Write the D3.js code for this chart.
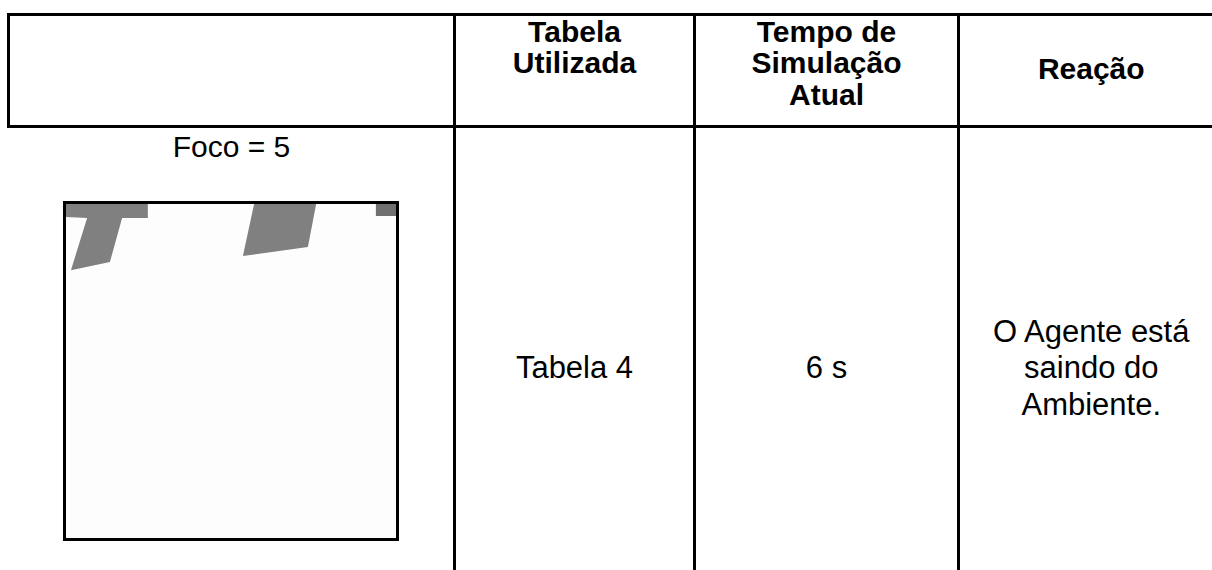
<!DOCTYPE html>
<html><head><meta charset="utf-8">
<script src="https://cdn.jsdelivr.net/npm/d3@7"></script>
<style>html,body{margin:0;padding:0;background:#fff;}svg{display:block;font-family:"Liberation Sans",Arial,sans-serif;}</style>
</head><body><svg id="c" width="1212" height="570"></svg>
<script>
// ---- data ----
const headers = [[""], ["Tabela","Utilizada"], ["Tempo de","Simulação","Atual"], ["Reação"]];
const headerAlign = ["top","top","top","middle"];
const imageTitle = "Foco = 5";
const tableUsed = ["Tabela 4"];
const simTime = ["6 s"];
const reaction = ["O Agente está","saindo do","Ambiente."];
// obstacle shapes in the focus image, in image units (0-100 each axis)
const shapeA = [[0,0],[24.8,0],[24.8,4.2],[17,4.2],[13.3,17.4],[1.5,19.8],[6.4,4.2],[0,3.9]];
const shapeB = [[57,0],[75.8,0],[73.3,12.9],[53.6,15.6]];
const shapeC = [[93.9,0],[100,0],[100,3.6],[93.9,3.6]];
const shapes = [shapeA, shapeB, shapeC];
const shapeColors = ["#808080","#808080","#707070"];

// ---- layout ----
const svg = d3.select("#c");
const colX = [8.5, 454.5, 694.5, 958.5, 1224];
const yTop = 14.5, yHead = 126.5, yBot = 600;
const lw = 3;
const g = svg.append("g");
// horizontal lines
g.append("line").attr("x1",colX[0]-1.5).attr("x2",1230).attr("y1",yTop).attr("y2",yTop).attr("stroke","#000").attr("stroke-width",lw);
g.append("line").attr("x1",colX[0]-1.5).attr("x2",1230).attr("y1",yHead).attr("y2",yHead).attr("stroke","#000").attr("stroke-width",lw);
// left border header only
g.append("line").attr("x1",colX[0]).attr("x2",colX[0]).attr("y1",yTop-1.5).attr("y2",yHead+1.5).attr("stroke","#000").attr("stroke-width",lw);
// inner columns
colX.slice(1,4).forEach(x=>{
  g.append("line").attr("x1",x).attr("x2",x).attr("y1",yTop-1.5).attr("y2",yBot).attr("stroke","#000").attr("stroke-width",lw);
});
const cx = i => (colX[i]+colX[i+1])/2;

// header text
const hFont = 30, hLine = 31.6;
headers.forEach((lines,i)=>{
  let first;
  if (headerAlign[i]==="top") first = 41.7;
  else first = 79;
  lines.forEach((t,j)=>{
    g.append("text").attr("x",cx(i)).attr("y",first+j*hLine).attr("text-anchor","middle")
      .attr("font-size",hFont).attr("font-weight","bold").attr("fill","#000").text(t);
  });
});

// body text
const bFont = 31, bLine = 36.5;
g.append("text").attr("x",cx(0)).attr("y",156.7).attr("text-anchor","middle").attr("font-size",30).text(imageTitle);
function block(lines, i, midBase){
  const start = midBase - (lines.length-1)/2*bLine;
  lines.forEach((t,j)=>g.append("text").attr("x",cx(i)).attr("y",start+j*bLine).attr("text-anchor","middle").attr("font-size",bFont).text(t));
}
block(tableUsed,1,378);
block(simTime,2,378);
block(reaction,3,378);

// focus image
const ix = d3.scaleLinear().domain([0,100]).range([66,396]);
const iy = d3.scaleLinear().domain([0,100]).range([204,538]);
g.append("rect").attr("x",ix(0)).attr("y",iy(0)).attr("width",ix(100)-ix(0)).attr("height",iy(100)-iy(0)).attr("fill","#fdfdfd");
const line = d3.line().x(d=>ix(d[0])).y(d=>iy(d[1])).curve(d3.curveLinearClosed);
g.selectAll("path.s").data(shapes).join("path").attr("class","s").attr("d",line).attr("fill",(d,i)=>shapeColors[i]);
g.append("rect").attr("x",ix(0)-1.5).attr("y",iy(0)-1.5).attr("width",ix(100)-ix(0)+3).attr("height",iy(100)-iy(0)+3)
  .attr("fill","none").attr("stroke","#000").attr("stroke-width",3);
</script></body></html>
